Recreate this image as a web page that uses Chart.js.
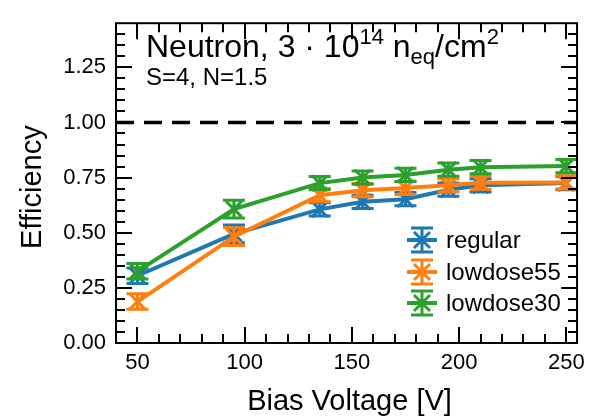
<!DOCTYPE html>
<html>
<head>
<meta charset="utf-8">
<script src="https://cdn.jsdelivr.net/npm/chart.js@4/dist/chart.umd.min.js"></script>
<style>
html,body{margin:0;padding:0;background:#fff;}
#c{display:block;}
</style>
</head>
<body>
<canvas id="c" width="592" height="417"></canvas>
<script>
// ---- data ----
const biasVoltage = [50, 95, 135, 155, 175, 195, 210, 250];
const regular     = [0.305, 0.495, 0.606, 0.640, 0.652, 0.695, 0.715, 0.725];
const regularErr  = [0.035, 0.04, 0.03, 0.03, 0.03, 0.03, 0.03, 0.03];
const lowdose55    = [0.188, 0.482, 0.670, 0.693, 0.703, 0.715, 0.727, 0.728];
const lowdose55Err = [0.035, 0.04, 0.03, 0.03, 0.03, 0.03, 0.03, 0.03];
const lowdose30    = [0.325, 0.607, 0.725, 0.750, 0.762, 0.786, 0.797, 0.802];
const lowdose30Err = [0.035, 0.04, 0.03, 0.03, 0.03, 0.03, 0.03, 0.03];
const seriesNames = ['regular', 'lowdose55', 'lowdose30'];
const xTicks = [50, 100, 150, 200, 250];
const yTicks = [0.00, 0.25, 0.50, 0.75, 1.00, 1.25];
const xRange = [40, 255];
const yRange = [0, 1.45];
const referenceLevel = 1.0;

const COLORS = ['#1f77b4', '#ff7f0e', '#2ca02c'];
const FONT = "'Liberation Sans', Arial, Helvetica, sans-serif";

function pts(ys) { return biasVoltage.map((x, i) => ({x: x, y: ys[i]})); }

function seriesDs(name, ys, errs, color, order) {
  return {
    label: name, data: pts(ys), errors: errs,
    borderColor: color, backgroundColor: color,
    borderWidth: 4, pointStyle: 'crossRot', pointRadius: 11,
    pointBorderWidth: 3, pointHoverRadius: 11, tension: 0,
    fill: false, order: order
  };
}

const datasets = [
  seriesDs(seriesNames[0], regular, regularErr, COLORS[0], 3),
  seriesDs(seriesNames[1], lowdose55, lowdose55Err, COLORS[1], 2),
  seriesDs(seriesNames[2], lowdose30, lowdose30Err, COLORS[2], 1),
  {
    label: 'ref', data: [{x: xRange[0], y: referenceLevel}, {x: xRange[1], y: referenceLevel}],
    borderColor: '#000', borderWidth: 3.5, borderDash: [18, 10], pointRadius: 0,
    fill: false, order: 0
  }
];

const errorBars = {
  id: 'errorBars',
  afterDatasetDraw(chart, args) {
    const ds = chart.data.datasets[args.index];
    if (!ds.errors) return;
    const ctx = chart.ctx, xs = chart.scales.x, ys = chart.scales.y;
    ctx.save();
    ctx.strokeStyle = ds.borderColor; ctx.lineWidth = 3; ctx.lineCap = 'butt';
    ds.data.forEach((p, i) => {
      const e = ds.errors[i];
      const px = xs.getPixelForValue(p.x);
      const y1 = ys.getPixelForValue(p.y + e), y0 = ys.getPixelForValue(p.y - e);
      ctx.beginPath();
      ctx.moveTo(px, y1); ctx.lineTo(px, y0);
      ctx.moveTo(px - 11, y1); ctx.lineTo(px + 11, y1);
      ctx.moveTo(px - 11, y0); ctx.lineTo(px + 11, y0);
      ctx.stroke();
    });
    ctx.restore();
  }
};

const frameTicks = {
  id: 'frameTicks',
  afterDraw(chart) {
    const ctx = chart.ctx, a = chart.chartArea, xs = chart.scales.x, ys = chart.scales.y;
    ctx.save();
    ctx.strokeStyle = '#000';
    ctx.lineWidth = 2;
    ctx.strokeRect(a.left, a.top, a.right - a.left, a.bottom - a.top);
    ctx.lineWidth = 2;
    ctx.beginPath();
    for (let v = 40; v <= xRange[1] + 1e-9; v += 10) {
      const px = Math.round(xs.getPixelForValue(v));
      if (px < a.left + 1 || px > a.right - 1) continue;
      const L = (v % 50 === 0) ? 16 : 9;
      ctx.moveTo(px, a.bottom); ctx.lineTo(px, a.bottom - L);
      ctx.moveTo(px, a.top); ctx.lineTo(px, a.top + L);
    }
    for (let k = 0; k <= 29; k++) {
      const v = k * 0.05;
      const py = Math.round(ys.getPixelForValue(v));
      if (py > a.bottom - 1 || py < a.top + 1) continue;
      const L = (k % 5 === 0) ? 16 : 9;
      ctx.moveTo(a.left, py); ctx.lineTo(a.left + L, py);
      ctx.moveTo(a.right, py); ctx.lineTo(a.right - L, py);
    }
    ctx.stroke();

    // axis titles
    ctx.fillStyle = '#000';
    ctx.font = '29px ' + FONT;
    ctx.textAlign = 'center'; ctx.textBaseline = 'alphabetic';
    ctx.fillText('Bias Voltage [V]', (a.left + a.right) / 2 + 3, 410);
    ctx.save();
    ctx.translate(41, (a.top + a.bottom) / 2 + 4);
    ctx.rotate(-Math.PI / 2);
    ctx.fillText('Efficiency', 0, 0);
    ctx.restore();

    // annotation text
    ctx.textAlign = 'left';
    let x = a.left + 30;
    const base = 57;
    const big = '32px ' + FONT, small = '22px ' + FONT;
    const parts = [
      ['Neutron, 3 \u00B7 10', big, 0],
      ['14', small, -13],
      [' n', big, 0],
      ['eq', small, 7],
      ['/cm', big, 0],
      ['2', small, -13]
    ];
    parts.forEach(([t, f, dy]) => {
      ctx.font = f;
      ctx.fillText(t, x, base + dy);
      x += ctx.measureText(t).width;
    });
    ctx.font = '24px ' + FONT;
    ctx.fillText('S=4, N=1.5', a.left + 30, 85);

    // legend
    const lx = 422, lty = [240, 272, 303];
    seriesNames.forEach((name, i) => {
      const cy = lty[i];
      ctx.strokeStyle = COLORS[i];
      ctx.lineWidth = 4;
      ctx.beginPath();
      ctx.moveTo(lx - 15, cy); ctx.lineTo(lx + 15, cy);
      ctx.stroke();
      ctx.lineWidth = 3;
      ctx.beginPath();
      ctx.moveTo(lx, cy - 12); ctx.lineTo(lx, cy + 12);
      ctx.moveTo(lx - 11, cy - 12); ctx.lineTo(lx + 11, cy - 12);
      ctx.moveTo(lx - 11, cy + 12); ctx.lineTo(lx + 11, cy + 12);
      const r = 8;
      ctx.moveTo(lx - r, cy - r); ctx.lineTo(lx + r, cy + r);
      ctx.moveTo(lx - r, cy + r); ctx.lineTo(lx + r, cy - r);
      ctx.stroke();
      ctx.fillStyle = '#000';
      ctx.font = '24px ' + FONT;
      ctx.textBaseline = 'middle';
      ctx.fillText(name, lx + 24, cy + 1);
      ctx.textBaseline = 'alphabetic';
    });
    ctx.restore();
  }
};

new Chart(document.getElementById('c'), {
  type: 'line',
  data: { datasets: datasets },
  plugins: [errorBars, frameTicks],
  options: {
    responsive: false,
    devicePixelRatio: 1,
    animation: false,
    layout: { padding: { top: 10, right: 9, left: 0, bottom: 0 } },
    plugins: { legend: { display: false }, tooltip: { enabled: false } },
    scales: {
      x: {
        type: 'linear', min: xRange[0], max: xRange[1],
        grid: { display: false, drawTicks: false },
        border: { display: false },
        afterBuildTicks: s => { s.ticks = xTicks.map(v => ({value: v})); },
        afterFit: s => { s.height = 417 - 343; },
        ticks: { color: '#000', font: { family: FONT, size: 22 }, padding: 7,
                 maxRotation: 0, callback: v => String(v) }
      },
      y: {
        type: 'linear', min: yRange[0], max: yRange[1],
        grid: { display: false, drawTicks: false },
        border: { display: false },
        afterBuildTicks: s => { s.ticks = yTicks.map(v => ({value: v})); },
        afterFit: s => { s.width = 116; },
        ticks: { color: '#000', font: { family: FONT, size: 22 }, padding: 10,
                 callback: v => Number(v).toFixed(2) }
      }
    }
  }
});
</script>
</body>
</html>
